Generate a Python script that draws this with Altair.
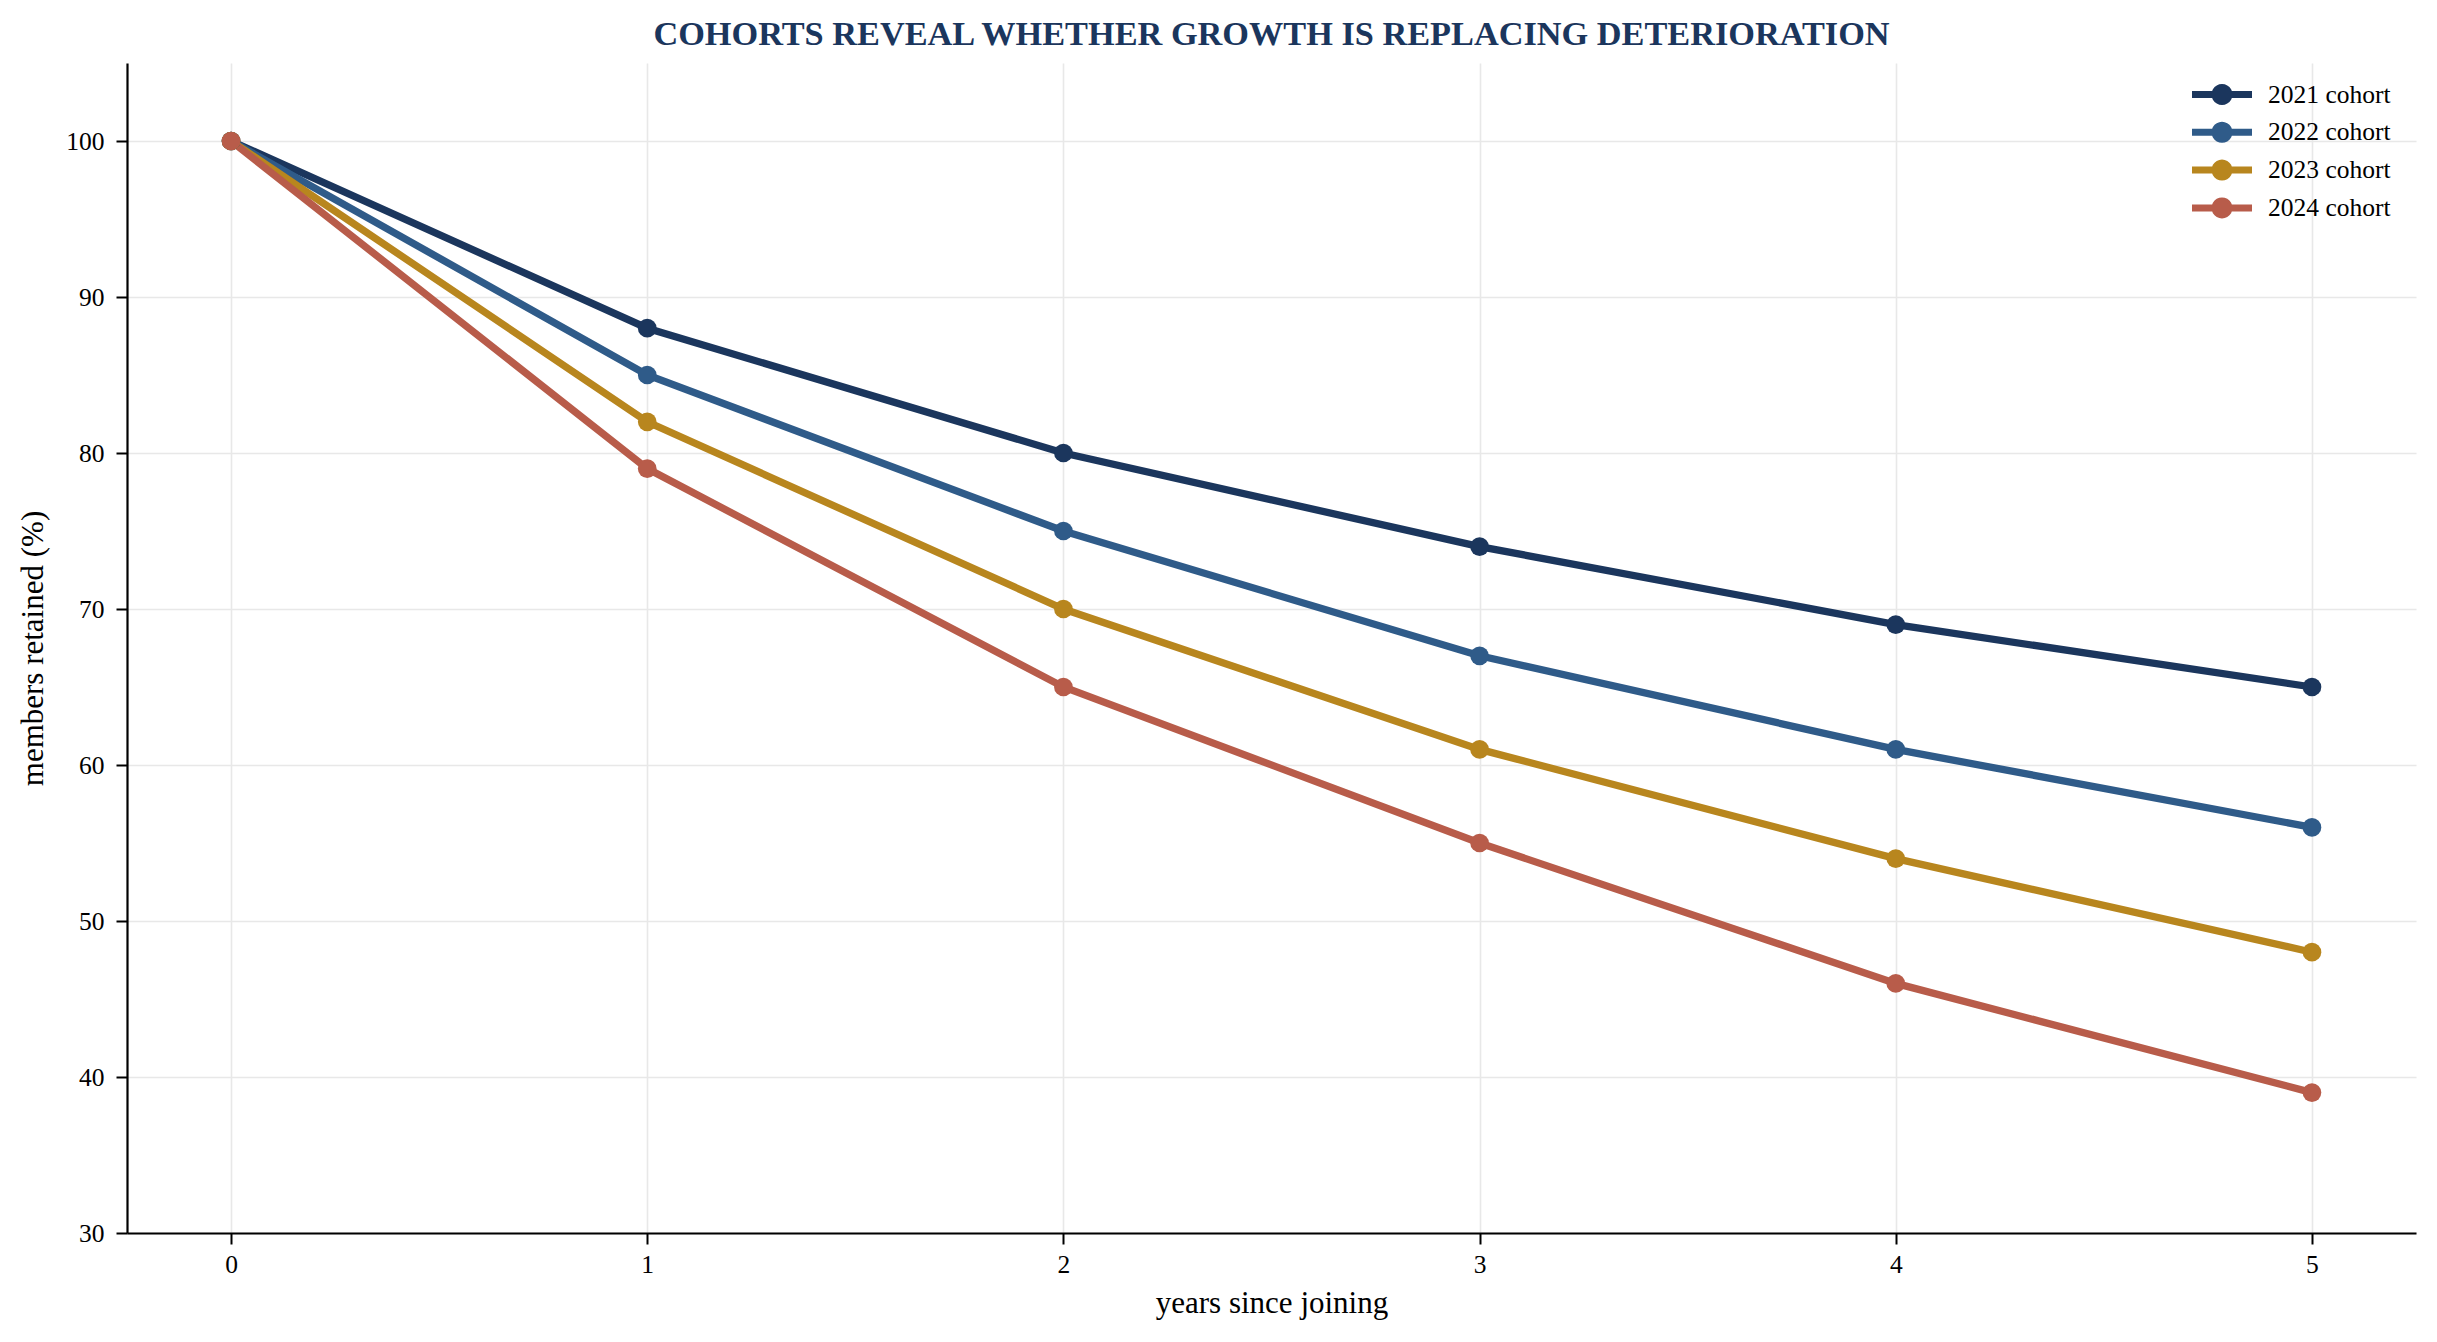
import math
import altair as alt
import pandas as pd

years = [0, 1, 2, 3, 4, 5]
cohorts = ["2021 cohort", "2022 cohort", "2023 cohort", "2024 cohort"]
retention_2021 = [100, 88, 80, 74, 69, 65]
retention_2022 = [100, 85, 75, 67, 61, 56]
retention_2023 = [100, 82, 70, 61, 54, 48]
retention_2024 = [100, 79, 65, 55, 46, 39]
colors = ["#1b365d", "#2f5b89", "#b8861e", "#b85c4a"]
y_ticks = [30, 40, 50, 60, 70, 80, 90, 100]

series = [retention_2021, retention_2022, retention_2023, retention_2024]
rows = []
for i, (name, vals) in enumerate(zip(cohorts, series)):
    for yr, v in zip(years, vals):
        rows.append({"year": yr, "retained": v, "cohort": name, "order": i})
df = pd.DataFrame(rows)

FONT = "Liberation Serif"


def polygon(cx, r, n=24):
    pts = []
    for k in range(n):
        a = 2 * math.pi * k / n
        pts.append(f"{cx + r * math.cos(a):.4f},{r * math.sin(a):.4f}")
    return "M" + "L".join(pts) + "Z"


# legend glyph: a short thick line with a dot in the middle (unit = 12 px),
# built from thin strokes so the symbol's bounding box stays compact
legend_path = (
    "M-2.5,-0.1458L2.5,-0.1458M-2.5,0.1458L2.5,0.1458"
    + polygon(0, 0.7292) + polygon(0, 0.4375) + polygon(0, 0.1458)
)

x_enc = alt.X(
    "year:Q",
    scale=alt.Scale(domain=[-0.25, 5.25], nice=False, zero=False),
    axis=alt.Axis(
        values=years, format="d", title="years since joining",
        titleY=79, titleBaseline="alphabetic",
        labelPadding=8,
    ),
)
y_enc = alt.Y(
    "retained:Q",
    scale=alt.Scale(domain=[30, 105], nice=False, zero=False),
    axis=alt.Axis(
        values=y_ticks, format="d", title="members retained (%)",
        titleX=-85, titleY=585, titleBaseline="alphabetic", titleAngle=-90,
        titleAlign="center", labelPadding=12,
    ),
)
color_scale = alt.Scale(domain=cohorts, range=colors)

lines = alt.Chart(df).mark_line(strokeWidth=7.3).encode(
    x=x_enc,
    y=y_enc,
    color=alt.Color(
        "cohort:N", scale=color_scale,
        legend=alt.Legend(
            title=None, orient="none", legendX=2081, legendY=17.5,
            symbolType=legend_path, symbolSize=576, symbolStrokeWidth=3.5,
            labelOffset=32, rowPadding=5.8, padding=0,
            labelFont=FONT, labelFontSize=25.5, labelColor="black",
        ),
    ),
    order="order:Q",
)
points = alt.Chart(df).mark_point(filled=True, size=350, opacity=1).encode(
    x=x_enc,
    y=y_enc,
    color=alt.Color("cohort:N", scale=color_scale, legend=None),
    order="order:Q",
)

chart = alt.layer(lines, points).properties(
    width=2289,
    height=1170,
    title=alt.TitleParams(
        "COHORTS REVEAL WHETHER GROWTH IS REPLACING DETERIORATION",
        font=FONT, fontSize=34.3, fontWeight="bold", color="#1b365d",
        anchor="middle", offset=11,
    ),
    autosize=alt.AutoSizeParams(type="none"),
    padding={"left": 119, "top": 55, "right": 13, "bottom": 95},
    background="white",
).configure_view(stroke=None).configure_axis(
    labelFont=FONT, labelFontSize=25.5, labelColor="black",
    titleFont=FONT, titleFontSize=31, titleFontWeight="normal", titleColor="black",
    domainColor="black", domainWidth=2.2,
    tickColor="black", tickWidth=2, tickSize=11,
    grid=True, gridColor="#e8e8e8", gridWidth=1.6,
)

chart.save("out.html", embed_options={"renderer": "svg", "actions": False})
